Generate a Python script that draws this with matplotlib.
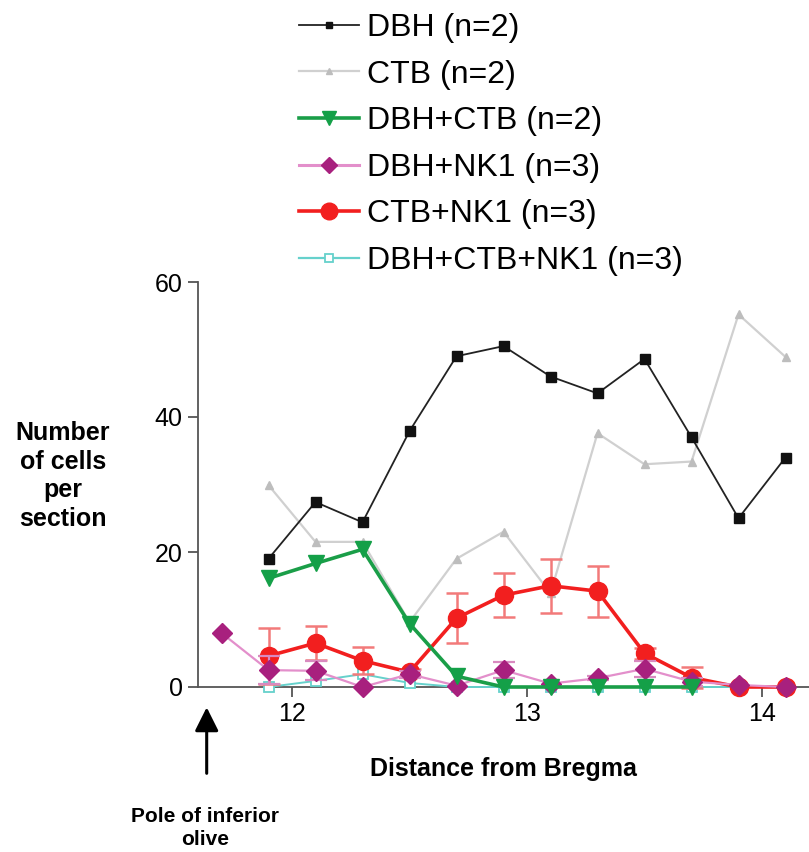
import numpy as np
import matplotlib
matplotlib.use("Agg")
import matplotlib.pyplot as plt
from matplotlib.lines import Line2D

plt.rcParams['font.family'] = ['Liberation Sans', 'DejaVu Sans']

# ---- data ----
x = [11.9, 12.1, 12.3, 12.5, 12.7, 12.9, 13.1, 13.3, 13.5, 13.7, 13.9, 14.1]
dbh = [19.0, 27.4, 24.4, 37.9, 49.0, 50.5, 46.0, 43.5, 48.6, 37.0, 25.0, 34.0]
ctb = [29.9, 21.5, 21.5, 9.6, 19.0, 23.0, 13.9, 37.6, 33.0, 33.4, 55.2, 48.9]
x_dbh_ctb = [11.9, 12.1, 12.3, 12.5, 12.7, 12.9, 13.1, 13.3, 13.5, 13.7]
dbh_ctb = [16.1, 18.3, 20.4, 9.4, 1.6, 0, 0, 0, 0, 0]
x_dbh_nk1 = [11.7, 11.9, 12.1, 12.3, 12.5, 12.7, 12.9, 13.1, 13.3, 13.5, 13.7, 13.9, 14.1]
dbh_nk1 = [8.0, 2.5, 2.4, 0, 1.9, 0.2, 2.5, 0.5, 1.3, 2.7, 0.8, 0.3, 0]
dbh_nk1_err = [np.nan, 2.1, 1.4, np.nan, 0.5, np.nan, 1.2, np.nan, 0.3, 1.2, 0.6, np.nan, np.nan]
ctb_nk1 = [4.6, 6.5, 3.9, 2.2, 10.2, 13.6, 15.0, 14.2, 5.0, 1.4, 0, 0]
ctb_nk1_err = [4.1, 2.5, 2.0, 0.5, 3.7, 3.3, 4.0, 3.8, 0.8, 1.5, np.nan, np.nan]
dbh_ctb_nk1 = [0, 0.9, 1.9, 0.6, 0, 0, 0, 0, 0, 0, 0, 0]

labels = ["DBH (n=2)", "CTB (n=2)", "DBH+CTB (n=2)", "DBH+NK1 (n=3)",
          "CTB+NK1 (n=3)", "DBH+CTB+NK1 (n=3)"]
x_ticks = [12, 13, 14]
y_ticks = [0, 20, 40, 60]

W, H = 809, 852
fig = plt.figure(figsize=(W / 100, H / 100), dpi=100)
ax = fig.add_axes([198 / W, (H - 687) / H, (W - 198) / W, 405 / H])

ax.plot(x, ctb, color='#d0d0d0', lw=1.6, marker='^', ms=6,
        mfc='#bdbdbd', mec='#bdbdbd', zorder=2, clip_on=False)
ax.plot(x, dbh, color='#222222', lw=1.3, marker='s', ms=7,
        mfc='#111111', mec='#111111', zorder=3, clip_on=False)
ax.plot(x, dbh_ctb_nk1, color='#66d1cc', lw=1.4, marker='s', ms=7,
        mfc='white', mec='#66d1cc', mew=1.3, zorder=4, clip_on=False)
eb_r = ax.errorbar(x, ctb_nk1, yerr=ctb_nk1_err, color='#f21f1f', lw=2.6, marker='o',
                   ms=13, mfc='#f21f1f', mec='#f21f1f', ecolor='#f27a7a', elinewidth=1.8,
                   capsize=8, capthick=1.8, zorder=5)
eb_m = ax.errorbar(x_dbh_nk1, dbh_nk1, yerr=dbh_nk1_err, color='#e38fcb', lw=1.6, marker='D',
                   ms=10, mfc='#a8207e', mec='#a8207e', ecolor='#d98ac0', elinewidth=1.6,
                   capsize=8, capthick=1.6, zorder=6)
ax.plot(x_dbh_ctb, dbh_ctb, color='#1a9e48', lw=2.6, marker='v', ms=12,
        mfc='#14a048', mec='#14a048', zorder=7, clip_on=False)
for eb in (eb_r, eb_m):
    eb.lines[0].set_clip_on(False)
    for c in eb.lines[1]:
        c.set_clip_on(False)
    for c in eb.lines[2]:
        c.set_clip_on(False)

ax.set_xlim(11.6, 14.2)
ax.set_ylim(0, 60)
ax.set_xticks(x_ticks)
ax.set_yticks(y_ticks)
for s in ('top', 'right'):
    ax.spines[s].set_visible(False)
for s in ('left', 'bottom'):
    ax.spines[s].set_color('#555555')
    ax.spines[s].set_linewidth(1.3)
ax.tick_params(axis='both', direction='out', length=7, width=1.3, color='#555555',
               labelsize=18, pad=4)

ax.set_xlabel("Distance from Bregma", fontsize=18, fontweight='bold', labelpad=22)
fig.text(63 / W, 1 - 476 / H, "Number\nof cells\nper\nsection", ha='center', va='center',
         fontsize=18, fontweight='bold', linespacing=1.25)

ax.annotate("", xy=(11.637, -2.6), xytext=(11.637, -13.2), xycoords='data',
            arrowprops=dict(arrowstyle='-|>', color='black', lw=2.2, mutation_scale=36),
            annotation_clip=False)
fig.text(205 / W, 1 - 828 / H, "Pole of inferior\nolive", ha='center', va='center',
         fontsize=15, fontweight='bold', linespacing=1.3)

handles = [
    Line2D([], [], color='#222222', lw=1.3, marker='s', ms=5, mfc='#111111', mec='#111111'),
    Line2D([], [], color='#d0d0d0', lw=1.6, marker='^', ms=5, mfc='#bdbdbd', mec='#bdbdbd'),
    Line2D([], [], color='#1a9e48', lw=2.6, marker='v', ms=10, mfc='#14a048', mec='#14a048'),
    Line2D([], [], color='#e38fcb', lw=2.2, marker='D', ms=8, mfc='#a8207e', mec='#a8207e'),
    Line2D([], [], color='#f21f1f', lw=2.6, marker='o', ms=12, mfc='#f21f1f', mec='#f21f1f'),
    Line2D([], [], color='#66d1cc', lw=1.6, marker='s', ms=6, mfc='white', mec='#66d1cc', mew=1.3),
]
leg = fig.legend(handles, labels, loc='upper left', bbox_to_anchor=(299 / W, 1 - 13 / H),
                 frameon=False, fontsize=23.0, handlelength=1.88, handletextpad=0.25,
                 labelspacing=0.52, borderpad=0, borderaxespad=0)

fig.savefig("out.png", dpi=100)
